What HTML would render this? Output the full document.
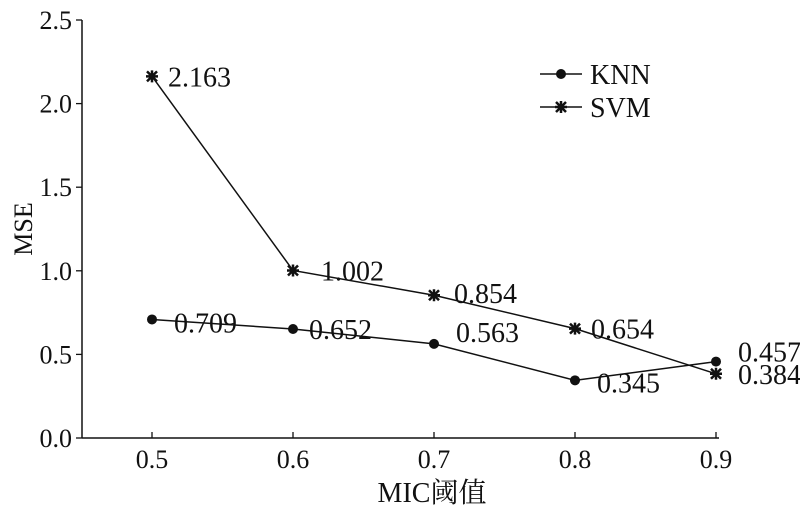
<!DOCTYPE html>
<html><head><meta charset="utf-8"><style>
html,body{margin:0;padding:0;background:#fff;}
svg text{font-family:"Liberation Serif","Noto Serif CJK SC",serif;fill:#111;}
</style></head><body>
<svg id="chart" width="800" height="512" viewBox="0 0 800 512" xmlns="http://www.w3.org/2000/svg"></svg>
<script>
const categories=[0.5,0.6,0.7,0.8,0.9];
const knnValues=[0.709,0.652,0.563,0.345,0.457];
const svmValues=[2.163,1.002,0.854,0.654,0.384];
const yTicks=[0.0,0.5,1.0,1.5,2.0,2.5];
const knnLabels=["0.709","0.652","0.563","0.345","0.457"];
const svmLabels=["2.163","1.002","0.854","0.654","0.384"];
const knnOff=[[22,3],[16,0],[22,-12],[22,2],[22,-10]];
const svmOff=[[16,0],[28,0],[20,-2],[16,0],[22,0]];

const NS="http://www.w3.org/2000/svg";
const svg=document.getElementById('chart');
const L=82,R=719,T=20,B=438;
const xS=v=>152+(v-0.5)/0.4*(716-152);
const yS=v=>B-v/2.5*(B-T);
function mk(t,a){const e=document.createElementNS(NS,t);for(const k in a)e.setAttribute(k,a[k]);svg.appendChild(e);return e;}
let e;
e=mk('line',{x1:L,y1:T,x2:L,y2:B,stroke:'#111','stroke-width':1.5});


e=mk('line',{x1:L,y1:B,x2:R,y2:B,stroke:'#111','stroke-width':1.5});


yTicks.forEach(v=>{
 const y=yS(v);
 e=mk('line',{x1:L-6,y1:y,x2:L,y2:y,stroke:'#111','stroke-width':1.3});
 
 
 e=mk('text',{x:L-10,y:y+9,'text-anchor':'end','font-size':26});
 e.textContent=v.toFixed(1);
 
 
});
categories.forEach(v=>{
 const x=xS(v);
 e=mk('line',{x1:x,y1:B-6,x2:x,y2:B,stroke:'#111','stroke-width':1.3});
 
 
 e=mk('text',{x:x,y:B+30,'text-anchor':'middle','font-size':26});
 e.textContent=v.toFixed(1);
 
 
});
e=mk('text',{x:432,y:502,'text-anchor':'middle','font-size':28});
e.textContent='MIC阈值';


e=mk('text',{x:0,y:0,'text-anchor':'middle','font-size':26,transform:'translate(32,229) rotate(-90)'});
e.textContent='MSE';



function star(x,y,name){
 e=mk('path',{d:`M${x-5},${y-5}L${x+5},${y+5}M${x+5},${y-5}L${x-5},${y+5}M${x},${y-6}L${x},${y+6}M${x-6},${y}L${x+6},${y}`,stroke:'#111','stroke-width':2.5});
 
 
}
function series(vals,labels,offs,kind,name){
 e=mk('polyline',{points:vals.map((v,i)=>xS(categories[i])+','+yS(v)).join(' '),fill:'none',stroke:'#111','stroke-width':1.5});
 
 
 vals.forEach((v,i)=>{
  const x=xS(categories[i]),y=yS(v);
  if(kind==='dot'){
   e=mk('circle',{cx:x,cy:y,r:5,fill:'#111'});
   
   
  } else star(x,y,name+'-point');
  e=mk('text',{x:x+offs[i][0],y:y+offs[i][1]+10,'font-size':28});
  e.textContent=labels[i];
  
  
 });
}
series(knnValues,knnLabels,knnOff,'dot','knn');
series(svmValues,svmLabels,svmOff,'star','svm');

e=mk('line',{x1:540,y1:74,x2:582,y2:74,stroke:'#111','stroke-width':1.5});


e=mk('circle',{cx:561,cy:74,r:5,fill:'#111'});


e=mk('text',{x:590,y:84,'font-size':28});
e.textContent='KNN';


e=mk('line',{x1:540,y1:107,x2:582,y2:107,stroke:'#111','stroke-width':1.5});


star(561,107,'legend-svm-marker');
e=mk('text',{x:590,y:117,'font-size':28});
e.textContent='SVM';


</script>
</body></html>
